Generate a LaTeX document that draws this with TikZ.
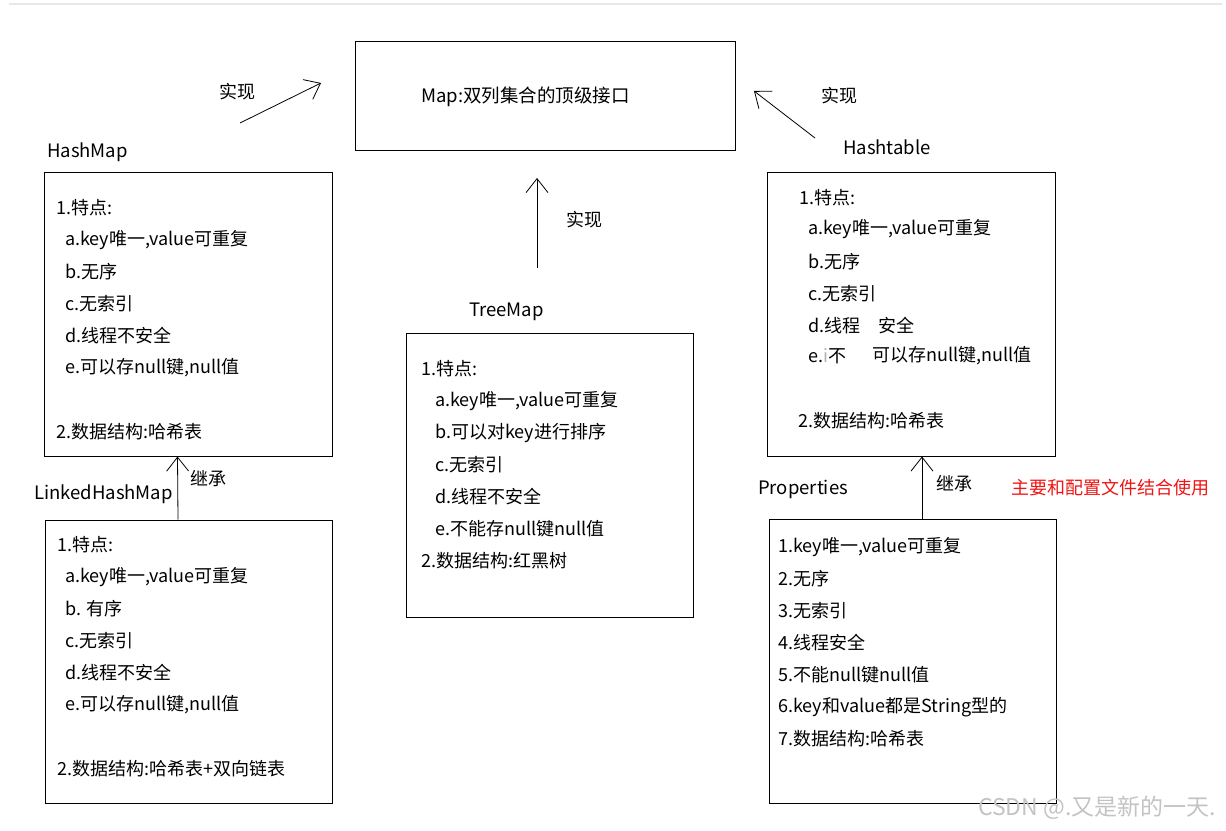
\documentclass[tikz,border=0pt]{standalone}
\usepackage{fontspec}
\setmainfont{Noto Sans CJK SC}
\usepackage{xcolor}
\usepackage{tikz}
\usetikzlibrary{arrows.meta}
\definecolor{rulegray}{RGB}{232,232,232}
\definecolor{notered}{RGB}{240,20,20}
\definecolor{markgray}{RGB}{195,195,195}

\begin{document}
\begin{tikzpicture}[
    x=1pt, y=-1pt,
    box/.style={rectangle, draw, line width=1pt, inner sep=0pt, minimum width=288pt, minimum height=284pt},
    txt/.style={anchor=west, inner sep=0pt, font=\fontsize{18}{20}\selectfont},
    title/.style={anchor=west, inner sep=0pt, font=\fontsize{18.5}{20}\selectfont},
    arrow/.style={-{Straight Barb[length=14pt,width=22pt]}, line width=0.8pt}
]
\useasboundingbox (0,0) rectangle (1226,830);

% page rule
\draw[rulegray, line width=2pt] (9,3.5) -- (1222,3.5);

% Map interface
\node[box, minimum width=380pt, minimum height=109pt] (map) at (545,95.5) {};
\node[txt, font=\fontsize{18.5}{20}\selectfont] (maptext) at (421,97) {Map:双列集合的顶级接口};

% HashMap
\node[title] (hmlabel) at (47,152) {HashMap};
\node[box] (hm) at (188,314) {};
\node[txt] (hm1) at (56,208) {1.特点:};
\node[txt] (hma) at (65,240) {a.key唯一,value可重复};
\node[txt] (hmb) at (65,272) {b.无序};
\node[txt] (hmc) at (65,304) {c.无索引};
\node[txt] (hmd) at (65,336) {d.线程不安全};
\node[txt] (hme) at (65,368) {e.可以存null键,null值};
\node[txt] (hm2) at (56,432) {2.数据结构:哈希表};

% LinkedHashMap
\node[title] (lhmlabel) at (34,494) {LinkedHashMap};
\node[box, minimum width=287pt, minimum height=283pt] (lhm) at (188.5,661.5) {};
\node[txt] (lhm1) at (57,545) {1.特点:};
\node[txt] (lhma) at (65,577) {a.key唯一,value可重复};
\node[txt] (lhmb) at (65,609) {b. 有序};
\node[txt] (lhmc) at (65,641) {c.无索引};
\node[txt] (lhmd) at (65,673) {d.线程不安全};
\node[txt] (lhme) at (65,705) {e.可以存null键,null值};
\node[txt] (lhm2) at (57,769) {2.数据结构:哈希表+双向链表};

% TreeMap
\node[title] (tmlabel) at (469,312) {TreeMap};
\node[box, minimum width=287pt] (tm) at (549.5,475) {};
\node[txt] (tm1) at (421,369) {1.特点:};
\node[txt] (tma) at (435,401) {a.key唯一,value可重复};
\node[txt] (tmb) at (435,433) {b.可以对key进行排序};
\node[txt] (tmc) at (435,465) {c.无索引};
\node[txt] (tmd) at (435,497) {d.线程不安全};
\node[txt] (tme) at (435,529) {e.不能存null键null值};
\node[txt] (tm2) at (421,561) {2.数据结构:红黑树};

% Hashtable
\node[title] (htlabel) at (843,147) {Hashtable};
\node[box] (ht) at (911,314) {};
\node[txt] (ht1) at (799,198) {1.特点:};
\node[txt] (hta) at (808,229) {a.key唯一,value可重复};
\node[txt] (htb) at (808,262) {b.无序};
\node[txt] (htc) at (808,294) {c.无索引};
\node[txt] (htd) at (808,326) {d.线程};
\node[txt] (htd2) at (878,326) {安全};
\node[txt] (hte) at (808,356) {e.{\color{gray!60}i}不};
\node[txt] (hte2) at (872,356) {可以存null键,null值};
\node[txt] (ht2) at (798,421) {2.数据结构:哈希表};

% Properties
\node[title] (prlabel) at (758,489) {Properties};
\node[box, minimum width=287pt] (pr) at (912.5,661) {};
\node[txt] (pr1) at (778,547) {1.key唯一,value可重复};
\node[txt] (pr2) at (778,579) {2.无序};
\node[txt] (pr3) at (778,611) {3.无索引};
\node[txt] (pr4) at (778,643) {4.线程安全};
\node[txt] (pr5) at (778,675) {5.不能null键null值};
\node[txt] (pr6) at (778,707) {6.key和value都是String型的};
\node[txt] (pr7) at (778,739) {7.数据结构:哈希表};

% arrow ends
\coordinate (hmtail) at (240,123);
\coordinate (hmtip) at (321,83);
\coordinate (tmtail) at (537,268);
\coordinate (tmtip) at (537,178);
\coordinate (httail) at (815,138);
\coordinate (httip) at (754,91);

% Arrows
\draw[arrow] (hmtail) -- (hmtip);
\node[txt] (impl1) at (219,92) {实现};
\draw[arrow] (tmtail) -- (tmtip);
\node[txt] (impl2) at (566,220) {实现};
\draw[arrow] (httail) -- (httip);
\node[txt] (impl3) at (821,96) {实现};

\draw[arrow] ([xshift=-10.5pt]lhm.north) -- ([xshift=-10.5pt]hm.south);
\node[txt] (inh1) at (190,479) {继承};
\draw[arrow] ([xshift=9.5pt]pr.north) -- ([xshift=11pt]ht.south);
\node[txt] (inh2) at (936,484) {继承};
\node[txt, text=notered] (note) at (1011,488) {主要和配置文件结合使用};

% watermark
\node[txt, text=markgray, font=\fontsize{23}{24}\selectfont] (mark) at (978,808) {CSDN @.又是新的一天.};

\end{tikzpicture}
\end{document}
